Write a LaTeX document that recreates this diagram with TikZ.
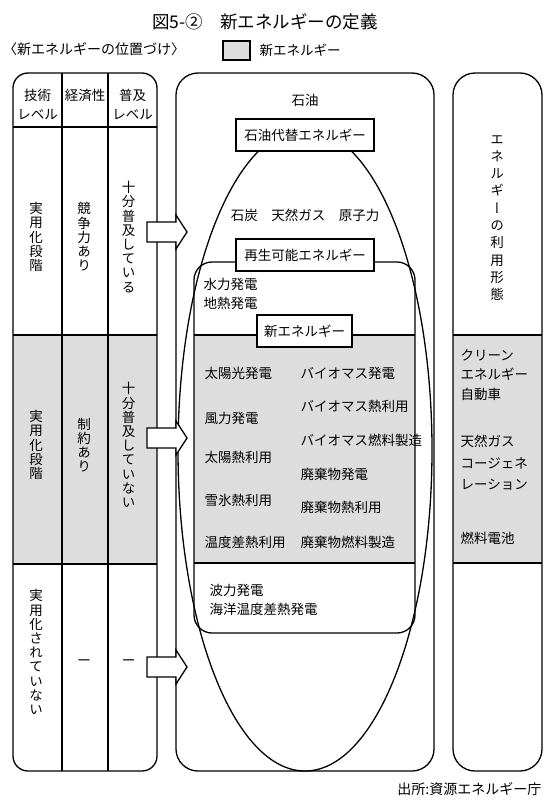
\documentclass[tikz,border=0pt]{standalone}
\usepackage{fontspec}
\setmainfont{Noto Sans CJK JP}
\newfontfamily\vfont{Noto Sans CJK JP}[RawFeature=+vert]
\definecolor{band}{RGB}{221,221,221}
\newcommand\blockarrow[1]{%
  \draw[fill=white,line join=miter] (147,{#1-10}) -- (176,{#1-10}) -- (176,{#1-17}) -- (187,#1)
    -- (176,{#1+17}) -- (176,{#1+10}) -- (147,{#1+10}) -- cycle;}
\begin{document}
\begin{tikzpicture}[x=1pt,y=-1pt,line width=1.3pt,
  txt/.style={inner sep=0pt,font=\fontsize{13.5}{19}\selectfont},
  lt/.style={txt,anchor=west},
  vt/.style={inner sep=0pt,align=center,font=\vfont\fontsize{13.5}{14.2}\selectfont},
  lbox/.style={draw,fill=white,inner sep=0pt,minimum height=32pt,font=\fontsize{13.5}{16}\selectfont},
  ]
\useasboundingbox (0,0) rectangle (548,800);

% title and legend
\node[inner sep=0pt,font=\fontsize{17.5}{20}\selectfont] (title) at (265,22) {図5-②\quad 新エネルギーの定義};
\node[inner sep=0pt,font=\fontsize{14}{16}\selectfont] (sub) at (94,49) {〈新エネルギーの位置づけ〉};
\node[draw,fill=band,minimum width=27pt,minimum height=19pt,inner sep=0pt] (leg) at (236.5,50.5) {};
\node[lt] (legt) at (259,50) {新エネルギー};
\node[inner sep=0pt,anchor=east,font=\fontsize{14}{16}\selectfont] (src) at (542,789) {出所:資源エネルギー庁};

% gray bands
\fill[band] (13,335) rectangle (157,564);
\fill[band] (194,335) rectangle (415,563);
\fill[band] (453,335) rectangle (542,563);

% left table
\draw[rounded corners=15pt] (13,73) rectangle (157,771);
\draw (13,127) -- (157,127);
\draw (13,335) -- (157,335);
\draw (13,564) -- (157,564);
\draw (62,73) -- (62,771);
\draw (108,73) -- (108,771);

\node[txt,align=center] (h1) at (37.5,104) {技術\\レベル};
\node[txt] (h2) at (85,95) {経済性};
\node[txt,align=center] (h3) at (132.5,104) {普及\\レベル};

\node[vt] (r1c1) at (36,237) {実\\用\\化\\段\\階};
\node[vt] (r1c2) at (84,237) {競\\争\\力\\あ\\り};
\node[vt] (r1c3) at (128.5,237) {十\\分\\普\\及\\し\\て\\い\\る};
\node[vt] (r2c1) at (36,445) {実\\用\\化\\段\\階};
\node[vt] (r2c2) at (84,445) {制\\約\\あ\\り};
\node[vt] (r2c3) at (128.5,445) {十\\分\\普\\及\\し\\て\\い\\な\\い};
\node[vt] (r3c1) at (36,652) {実\\用\\化\\さ\\れ\\て\\い\\な\\い};
\node[txt] (r3c2) at (84,663) {ー};
\node[txt] (r3c3) at (128.5,663) {ー};

% middle box
\draw[rounded corners=22pt] (176,73) rectangle (434,771);
\draw[rounded corners=18pt] (194,262) rectangle (415,633);
\draw (194,335) -- (415,335);
\draw (194,563) -- (415,563);
\draw (305,450) ellipse [x radius=127pt,y radius=321pt];

\node[txt] (oil) at (305,100) {石油};
\node[lbox,minimum width=138pt] (alt) at (305,135) {石油代替エネルギー};
\node[txt] (fos) at (305,215) {石炭\quad 天然ガス\quad 原子力};
\node[lbox,minimum width=138pt] (ren) at (305,255) {再生可能エネルギー};
\node[lt] (hyd) at (203,284) {水力発電};
\node[lt] (geo) at (203,303) {地熱発電};
\node[lbox,minimum width=95pt] (new) at (304.5,331) {新エネルギー};

\node[lt] (a1) at (204,373) {太陽光発電};
\node[lt] (a2) at (204,418) {風力発電};
\node[lt] (a3) at (204,457) {太陽熱利用};
\node[lt] (a4) at (204,500) {雪氷熱利用};
\node[lt] (a5) at (204,542) {温度差熱利用};
\node[lt] (b1) at (300,373) {バイオマス発電};
\node[lt] (b2) at (300,406) {バイオマス熱利用};
\node[lt] (b3) at (300,440) {バイオマス燃料製造};
\node[lt] (b4) at (300,474) {廃棄物発電};
\node[lt] (b5) at (300,507) {廃棄物熱利用};
\node[lt] (b6) at (300,542) {廃棄物燃料製造};
\node[lt] (w1) at (209,590) {波力発電};
\node[lt] (w2) at (209,609) {海洋温度差熱発電};

% right box
\draw[rounded corners=22pt] (453,73) rectangle (542,771);
\draw (453,335) -- (542,335);
\draw (453,563) -- (542,563);
\node[vt,font=\vfont\fontsize{13.5}{17.3}\selectfont] (use) at (497,218) {エ\\ネ\\ル\\ギ\\ー\\の\\利\\用\\形\\態};
\node[lt] (c1) at (460,355) {クリーン};
\node[lt] (c2) at (460,374) {エネルギー};
\node[lt] (c3) at (460,394) {自動車};
\node[lt] (d1) at (460,441) {天然ガス};
\node[lt] (d2) at (460,463) {コージェネ};
\node[lt] (d3) at (460,485) {レーション};
\node[lt] (e1) at (460,538) {燃料電池};

% arrows
\blockarrow{232}
\blockarrow{438}
\blockarrow{667}
\end{tikzpicture}
\end{document}
